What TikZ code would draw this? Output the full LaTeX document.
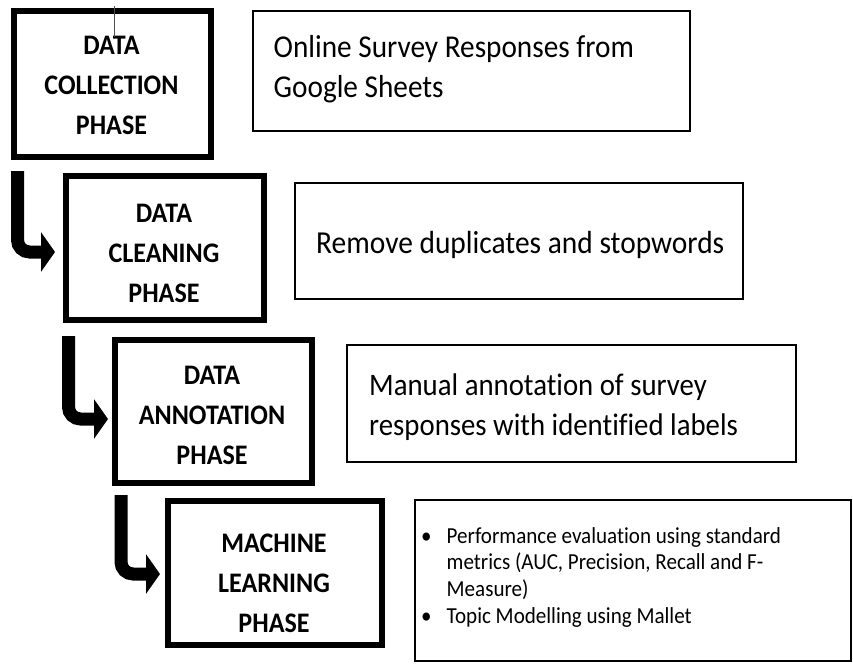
\documentclass[tikz,border=0pt]{standalone}
\usepackage{fontspec}
\setmainfont{Carlito}[FakeStretch=0.92,Ligatures=NoCommon]
\usetikzlibrary{arrows.meta}
\begin{document}
\begin{tikzpicture}[x=1pt,y=-1pt,
  phasebox/.style={draw,line width=6pt,inner sep=0pt},
  phasetext/.style={anchor=base,inner sep=0pt,font=\bfseries\fontsize{28.3}{40}\selectfont},
  descbox/.style={draw,line width=1.8pt,inner sep=0pt},
  desctext/.style={anchor=base west,inner sep=0pt},
  flowarrow/.style={line width=13pt,rounded corners=12pt,-{Triangle[length=14pt,width=39pt]}}]
\useasboundingbox (0,0) rectangle (853,664);
% phase boxes
\node[phasebox,minimum width=197pt,minimum height=146pt] (p1) at (112.5,84) {};
\node[phasebox,minimum width=198pt,minimum height=144pt] (p2) at (165,248) {};
\node[phasebox,minimum width=197pt,minimum height=143pt] (p3) at (213.5,411.5) {};
\node[phasebox,minimum width=214pt,minimum height=144pt] (p4) at (275,573) {};
\node[phasetext] (p1t) at (111.5,54) {\begin{tabular}[t]{@{}c@{}}DATA\\COLLECTION\\PHASE\end{tabular}};
\node[phasetext] (p2t) at (164,222) {\begin{tabular}[t]{@{}c@{}}DATA\\CLEANING\\PHASE\end{tabular}};
\node[phasetext] (p3t) at (212,384) {\begin{tabular}[t]{@{}c@{}}DATA\\ANNOTATION\\PHASE\end{tabular}};
\node[phasetext] (p4t) at (274,552) {\begin{tabular}[t]{@{}c@{}}MACHINE\\LEARNING\\PHASE\end{tabular}};
% description boxes
\node[descbox,minimum width=437pt,minimum height=120pt] (d1) at (471.5,71) {};
\node[descbox,minimum width=448pt,minimum height=116pt] (d2) at (519,241) {};
\node[descbox,minimum width=449pt,minimum height=117pt] (d3) at (571.5,403.5) {};
\node[descbox,minimum width=436pt,minimum height=161pt] (d4) at (633,580.5) {};
\node[desctext,font=\fontsize{31.8}{40}\selectfont] (d1t) at (273.5,57) {\begin{tabular}[t]{@{}l@{}}Online Survey Responses from\\Google Sheets\end{tabular}};
\node[desctext,font=\fontsize{32}{40}\selectfont] (d2t) at (316,253) {Remove duplicates and stopwords};
\node[desctext,font=\fontsize{31.3}{40.5}\selectfont] (d3t) at (369,395) {\begin{tabular}[t]{@{}l@{}}Manual annotation of survey\\responses with identified labels\end{tabular}};
\node[desctext,font=\fontsize{22.9}{26.7}\selectfont] (d4t) at (421,543) {%
\begin{tabular}[t]{@{}l@{\hspace{15pt}}l@{}}
\textbullet & Performance evaluation using standard\\
 & metrics (AUC, Precision, Recall and F-\\
 & Measure)\\
\textbullet & Topic Modelling using Mallet
\end{tabular}};
% arrows
\draw[flowarrow] ([xshift=6.5pt,yshift=-11pt]p1.south west) |- ([xshift=-8pt,yshift=-4pt]p2.west);
\draw[flowarrow] ([xshift=5.5pt,yshift=-13pt]p2.south west) |- ([xshift=-4pt,yshift=-7.5pt]p3.west);
\draw[flowarrow] ([xshift=9pt,yshift=-9pt]p3.south west) |- ([xshift=-5pt,yshift=-1pt]p4.west);
% cursor mark
\draw[line width=1pt,black!70] (114,6) -- (114,37);
\end{tikzpicture}
\end{document}
